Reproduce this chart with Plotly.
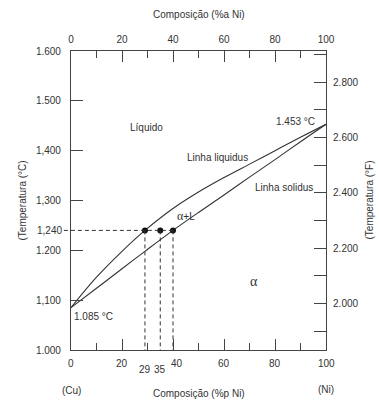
import plotly.graph_objects as go

# ---- data ----
comp_pct = [0, 10, 20, 29, 40, 50, 60, 70, 80, 90, 100]          # wt% Ni
liquidus_C = [1085, 1146, 1198, 1240, 1284, 1317, 1346, 1373, 1400, 1427, 1453]
solidus_C = [1085, 1124, 1163, 1198, 1240, 1276, 1311, 1347, 1382, 1418, 1453]

tie_T = 1240
tie_comps = [29, 35, 40]        # C_L, C_0, C_alpha
tie_labels = ["29", "35"]

temp_C_ticks = [1000, 1100, 1200, 1300, 1400, 1500, 1600]
temp_C_text = ["1.000", "1,100", "1.200", "1,300", "1,400", "1.500", "1.600"]
temp_F_ticks = [1900, 2000, 2100, 2200, 2300, 2400, 2500, 2600, 2700, 2800, 2900]
temp_F_text = ["", "2.000", "", "2.200", "", "2.400", "", "2.600", "", "2.800", ""]
comp_ticks = [0, 20, 40, 60, 80, 100]

T_RANGE = [1000, 1600]
X_RANGE = [0, 100]
F_RANGE = [t * 1.8 + 32 for t in T_RANGE]

FONT = "Liberation Sans Narrow, Arial Narrow, Liberation Sans, Arial, sans-serif"
INK = "#333333"
AX = "#444444"
FS = 10


def xpaper(v):
    return (v - X_RANGE[0]) / (X_RANGE[1] - X_RANGE[0])


fig = go.Figure()

fig.add_trace(go.Scatter(x=comp_pct, y=liquidus_C, mode="lines",
                         line=dict(color=INK, width=1.1, shape="spline", smoothing=1),
                         hoverinfo="skip", showlegend=False))
fig.add_trace(go.Scatter(x=comp_pct, y=solidus_C, mode="lines",
                         line=dict(color=INK, width=1.1, shape="spline", smoothing=1),
                         hoverinfo="skip", showlegend=False))
fig.add_trace(go.Scatter(x=tie_comps, y=[tie_T] * len(tie_comps), mode="markers",
                         marker=dict(color="#111111", size=6),
                         cliponaxis=False, hoverinfo="skip", showlegend=False))
# invisible trace to carry the top / right (°F) axes
fig.add_trace(go.Scatter(x=X_RANGE, y=F_RANGE, xaxis="x2", yaxis="y2", mode="lines",
                         line=dict(width=0, color="rgba(0,0,0,0)"),
                         hoverinfo="skip", showlegend=False))

DASH = "4px,3px"
shapes = []
# horizontal tie line, overhanging left of the axis
shapes.append(dict(type="line", xref="paper", yref="y",
                   x0=-0.028, x1=xpaper(tie_comps[-1]), y0=tie_T, y1=tie_T,
                   line=dict(color=INK, width=1, dash=DASH)))
# vertical drops
for i, c in enumerate(tie_comps):
    bottom = T_RANGE[0] - 16 if i < 2 else T_RANGE[0]
    shapes.append(dict(type="line", xref="paper", yref="y",
                       x0=xpaper(c), x1=xpaper(c), y0=tie_T, y1=bottom,
                       line=dict(color=INK, width=1, dash=DASH)))

tick_common = dict(ticks="inside", tickcolor=AX, tickwidth=1.1, showgrid=False,
                   zeroline=False, showline=True, linecolor=AX, linewidth=1.1,
                   automargin=False)

fig.update_layout(
    width=379, height=400, autosize=False,
    margin=dict(l=71, r=53, t=51, b=50),
    paper_bgcolor="white", plot_bgcolor="white",
    font=dict(family=FONT, size=FS, color=INK),
    shapes=shapes,
    xaxis=dict(range=X_RANGE, dtick=20, tick0=0, ticklen=11, showticklabels=False,
               minor=dict(dtick=10, tick0=0, ticklen=7, ticks="inside",
                          tickcolor=AX, tickwidth=1.1),
               **tick_common),
    xaxis2=dict(range=X_RANGE, overlaying="x", side="top", anchor="y",
                tickvals=comp_ticks, ticklen=11, ticklabelstandoff=3,
                tickfont=dict(size=FS, color=INK, family=FONT),
                minor=dict(dtick=10, tick0=0, ticklen=7, ticks="inside",
                           tickcolor=AX, tickwidth=1.1),
                **tick_common),
    yaxis=dict(range=T_RANGE, tickvals=temp_C_ticks, ticktext=temp_C_text,
               ticklen=12, ticklabelstandoff=7,
               tickfont=dict(size=FS, color=INK, family=FONT), **tick_common),
    yaxis2=dict(range=F_RANGE, overlaying="y", side="right", anchor="x",
                tickvals=temp_F_ticks, ticktext=temp_F_text,
                ticklen=12, ticklabelstandoff=4,
                tickfont=dict(size=FS, color=INK, family=FONT), **tick_common),
)

ann = []
def A(text, x, y, xref="x", yref="y", **kw):
    d = dict(text=text, x=x, y=y, xref=xref, yref=yref, showarrow=False,
             xanchor="center", yanchor="middle",
             font=dict(family=FONT, size=FS, color=INK))
    d.update(kw)
    ann.append(d)

# bottom composition labels
for c in comp_ticks:
    A(str(c), c, 0, yref="paper", yshift=-13, xshift=4 if c == 40 else 0)
for c, lab in zip(tie_comps[:2], tie_labels):
    A(lab, c, 0, yref="paper", yshift=-19)
A("1,240", 0, tie_T, xref="paper", xanchor="right", xshift=-7)

# axis titles
A("Composição (%a Ni)", 0.5, 1, xref="paper", yref="paper", yshift=37)
A("Composição (%p Ni)", 0.5, 0, xref="paper", yref="paper", yshift=-43)
A("(Cu)", X_RANGE[0], 0, yref="paper", yshift=-40)
A("(Ni)", X_RANGE[1], 0, yref="paper", yshift=-39)
A("(Temperatura (°C)", 0, 0.5, xref="paper", yref="paper", xshift=-49, textangle=-90)
A("(Temperatura (°F)", 1, 0.5, xref="paper", yref="paper", xshift=43, textangle=-90)

# region labels
A("Líquido", 29.5, 1446)
A("Linha liquidus", 57.5, 1387)
A("Linha solidus", 83.5, 1326)
A("<span style='font-family:Liberation Serif, serif;font-size:12px'>α</span>+L", 45, 1268)
A("α", 71.6, 1138, font=dict(family="Liberation Serif, serif", size=14, color=INK))
A("1.453 °C", 96.5, 1459, xanchor="right")
A("1.085 °C", 8.8, 1067)

fig.update_layout(annotations=ann)
fig.write_html("out.html", config={"displayModeBar": False},
               post_script="document.body.style.margin='0';document.body.style.overflow='hidden';")
